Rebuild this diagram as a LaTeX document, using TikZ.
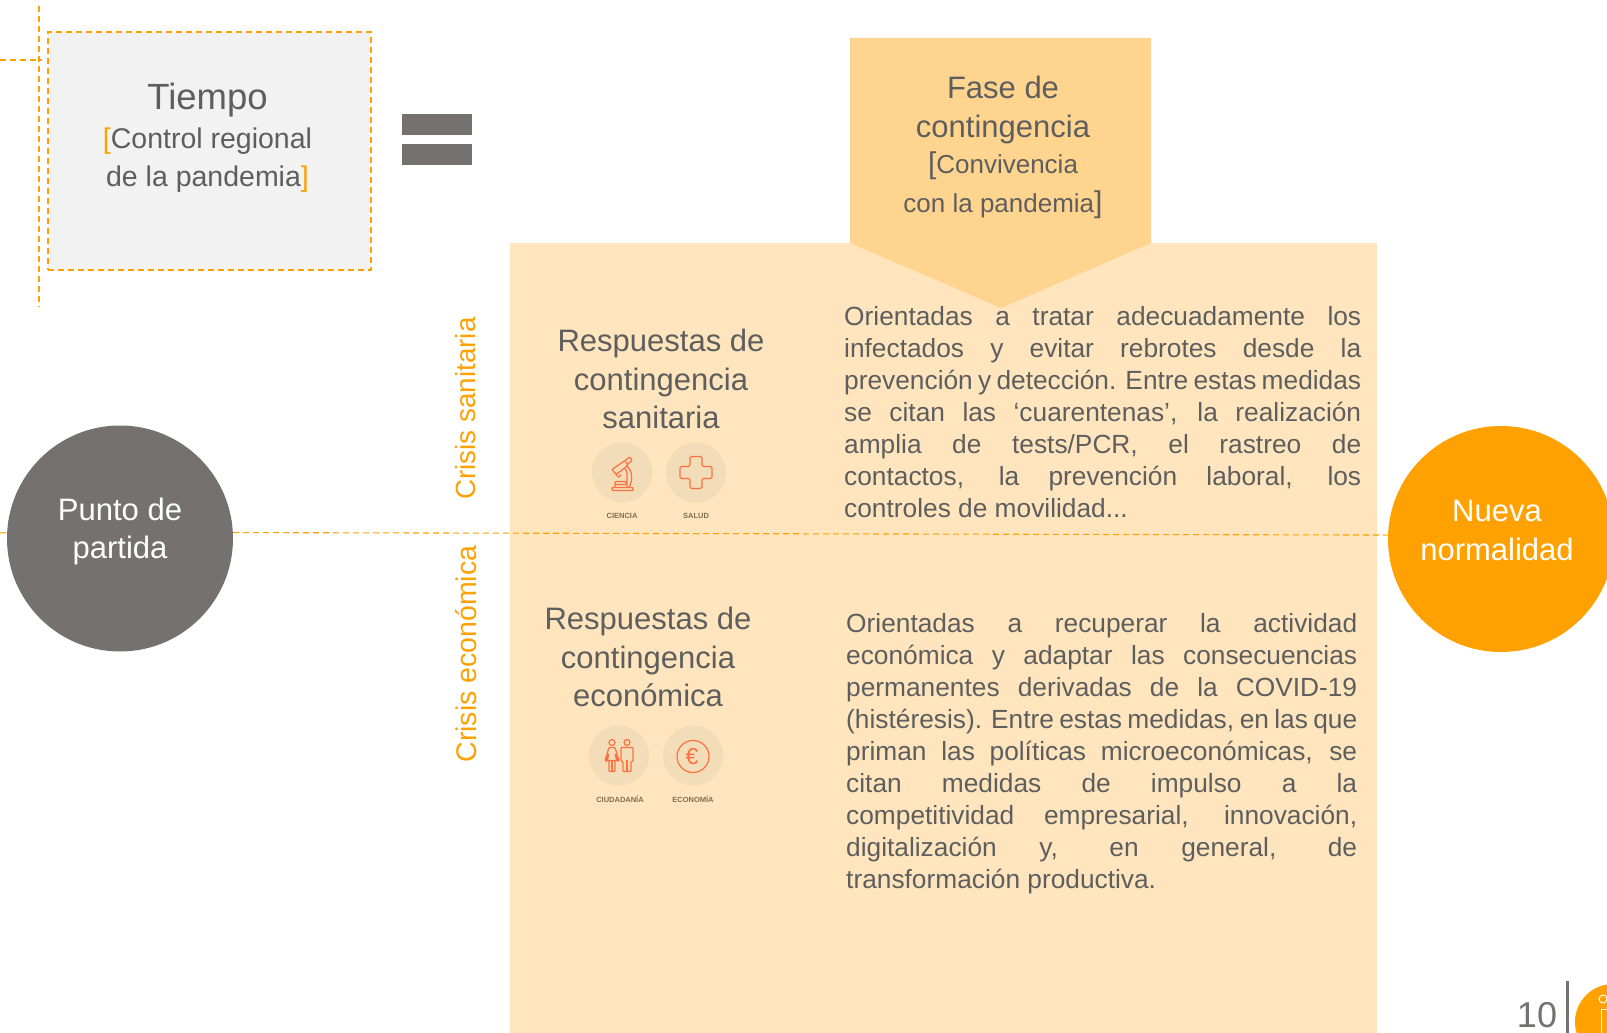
\documentclass[tikz,border=0pt]{standalone}
\usepackage{fontspec}
\setmainfont{Liberation Sans}
\usepackage{tikz}
\usetikzlibrary{positioning}
\definecolor{naranja}{HTML}{FFA100}
\definecolor{gris}{HTML}{757170}
\definecolor{texto}{HTML}{5E5E5E}
\definecolor{panelfill}{HTML}{FFE5BD}
\definecolor{fasefill}{HTML}{FFD48F}
\definecolor{iconfill}{HTML}{F2DDB8}
\definecolor{iconline}{HTML}{FF7040}
\definecolor{rotulofill}{HTML}{806E50}
\tikzstyle{guia} = [draw=naranja, line width=1.1pt, dash pattern=on 6pt off 4pt]
\tikzstyle{trazo} = [draw=iconline, line width=1.2pt, line join=round, rounded corners=0.8pt]

\begin{document}
\begin{tikzpicture}[
    x=1pt, y=-1pt,
    hito/.style={
        circle,
        minimum size=226pt,
        inner sep=0pt
    },
    hitotxt/.style={
        text=white,
        align=center,
        inner sep=0pt,
        font=\fontsize{31}{38.5}\selectfont
    },
    titulo/.style={
        text=texto,
        align=center,
        inner sep=0pt,
        font=\fontsize{31}{38.5}\selectfont
    },
    cuerpo/.style={
        text=texto,
        align=justify,
        inner sep=0pt,
        anchor=north west,
        font=\fontsize{26.3}{32}\selectfont
    },
    crisis/.style={
        text=naranja,
        rotate=90,
        inner sep=0pt,
        font=\fontsize{28.5}{32}\selectfont
    },
    icono/.style={
        circle,
        fill=iconfill,
        minimum size=60pt,
        inner sep=0pt
    },
    rotulo/.style={
        text=rotulofill,
        inner sep=0pt,
        font=\fontsize{7.5}{9}\selectfont\bfseries
    }
    ]
    \useasboundingbox (0,0) rectangle (1607,1033);
    \clip (0,0) rectangle (1607,1033);

    % Panel and phase arrow
    \fill[panelfill] (510,243) rectangle (1377,1033);
    \fill[fasefill] (850,38) -- (1151,38) -- (1151,243) -- (1001,308) -- (850,243) -- cycle;

    % Time guides
    \coordinate (guiaTop) at (39,6);
    \coordinate (guiaBottom) at (39,307);
    \coordinate (guiaLeft) at (0,60);
    \coordinate (guiaCross) at (42,60);
    \draw[guia] (guiaTop) -- (guiaBottom);
    \draw[guia] (guiaLeft) -- (guiaCross);

    % Tiempo box
    \node[guia, fill=gray!10, minimum width=323pt, minimum height=238pt, inner sep=0pt] (tiempoBox) at (209.5,151) {};
    \node[titulo, font=\fontsize{28.5}{38}\selectfont] (tiempo) at (207.5,137.5) {%
        {\fontsize{36.5}{38}\selectfont Tiempo}\\[1pt]
        \textcolor{naranja}{[}Control regional\\
        de la pandemia\textcolor{naranja}{]}};

    % Equals sign
    \node[fill=gris, minimum width=70pt, minimum height=21pt, inner sep=0pt] (igualTop) at (437,124.5) {};
    \node[fill=gris, minimum width=70pt, minimum height=21pt, inner sep=0pt, below=9pt of igualTop] (igualBottom) {};

    % Phase title
    \node[titulo] (fase) at (1003,110) {Fase de\\contingencia};
    \node[titulo, font=\fontsize{26}{39}\selectfont, below=8pt of fase] (convivencia) {%
        {\fontsize{30}{39}\selectfont [}Convivencia\\
        con la pandemia{\fontsize{30}{39}\selectfont ]}};

    % Milestones
    \node[hito, fill=gris] (punto) at (120,538.5) {};
    \node[hito, fill=naranja] (nueva) at (1501,539) {};
    \node[hitotxt] (puntoTxt) at (120,531.5) {Punto de\\partida};
    \node[hitotxt] (nuevaTxt) at (1497,530.5) {Nueva\\normalidad};
    \coordinate (lineaStart) at (0,533);
    \draw[guia] (lineaStart) -- (punto.177);
    \draw[guia] (punto.3) -- (nueva.178);

    % Crisis labels
    \node[crisis, font=\fontsize{27.8}{32}\selectfont] (sanitaria) at (466,408.5) {Crisis sanitaria};
    \node[crisis] (economica) at (466,654) {Crisis económica};

    % Sanitary response
    \node[titulo] (respSan) at (661,379) {Respuestas de\\contingencia\\sanitaria};
    \node[cuerpo, text width=517pt] (textoSan) at (844,306) {%
        Orientadas a tratar adecuadamente los\linebreak
        infectados y evitar rebrotes desde la\linebreak
        prevención y detección. Entre estas medidas\linebreak
        se citan las ‘cuarentenas’, la realización\linebreak
        amplia de tests/PCR, el rastreo de\linebreak
        contactos, la prevención laboral, los\linebreak
        controles de movilidad...};

    % Economic response
    \node[titulo] (respEco) at (648,657) {Respuestas de\\contingencia\\económica};
    \node[cuerpo, text width=511pt] (textoEco) at (846,613) {%
        Orientadas a recuperar la actividad\linebreak
        económica y adaptar las consecuencias\linebreak
        permanentes derivadas de la COVID-19\linebreak
        (histéresis). Entre estas medidas, en las que\linebreak
        priman las políticas microeconómicas, se\linebreak
        citan medidas de impulso a la\linebreak
        competitividad empresarial, innovación,\linebreak
        digitalización y, en general, de\linebreak
        transformación productiva.};

    % Icon circles
    \node[icono] (ciencia) at (622,472.5) {};
    \node[icono] (salud) at (696,472.5) {};
    \node[icono] (ciudadania) at (619,755.5) {};
    \node[icono] (economia) at (693,755.5) {};
    \node[rotulo] at (622,515.5) (cienciaTxt) {CIENCIA};
    \node[rotulo] at (696,515.5) (saludTxt) {SALUD};
    \node[rotulo] at (620,799) (ciudadaniaTxt) {CIUDADANÍA};
    \node[rotulo] at (693,799) (economiaTxt) {ECONOMÍA};

    % Microscope
    \begin{scope}[shift={(ciencia)}]
        \draw[trazo] (-10,18) -- (11,18) -- (11,15) -- (-10,15) -- cycle;
        \draw[trazo] (-7,15) -- (-7,9) -- (4,9) -- (4,12) -- (-7,12);
        \draw[trazo] (-10,-3) -- (3,-12) -- (6,-7) -- (-6,2) -- cycle;
        \draw[trazo] (3,-12) -- (8,-15.5) -- (10,-12) -- (5.5,-8);
        \draw[trazo] (4,-7) .. controls (11,-2) and (11,8) .. (7,15);
        \draw[trazo] (3,-4) -- (5,0) -- (5,15);
        \draw[trazo] (-6,2) -- (-3,5) -- (-1,2);
    \end{scope}

    % Cross
    \begin{scope}[shift={(salud)}]
        \draw[trazo, rounded corners=1.5pt] (-6,-16) -- (6,-16) -- (6,-6) -- (16,-6) -- (16,6) -- (6,6)
            -- (6,16) -- (-6,16) -- (-6,6) -- (-16,6) -- (-16,-6) -- (-6,-6) -- cycle;
    \end{scope}

    % People
    \begin{scope}[shift={(ciudadania)}]
        \draw[trazo] (-7,-13) circle (3pt);
        \draw[trazo] (-10,-8) -- (-4,-8) -- (0,5) -- (-2,6) -- (-4,-2) -- (-1,5) -- (-13,5) -- (-10,-2) -- (-12,6) -- (-14,5) -- cycle;
        \draw[trazo] (-10,5) -- (-10,16) -- (-4,16) -- (-4,5);
        \draw[trazo] (-7,5) -- (-7,16);
        \draw[trazo] (8,-13) circle (3pt);
        \draw[trazo] (2,-8) -- (14,-8) -- (14,6) -- (12,6) -- (12,16) -- (4,16) -- (4,6) -- (2,6) -- cycle;
        \draw[trazo] (8,4) -- (8,16);
    \end{scope}

    % Euro
    \begin{scope}[shift={(economia)}]
        \draw[trazo] (0,1) circle (16pt);
        \node[text=iconline, inner sep=0pt, font=\fontsize{23}{23}\selectfont] (euro) at (-1,1) {€};
    \end{scope}

    % Page mark
    \node[text=gris, inner sep=0pt, font=\fontsize{36}{36}\selectfont] (pagina) at (1537,1015) {10};
    \fill[gris] (1565.5,981) rectangle (1568.5,1033);
    \node[circle, fill=naranja, minimum size=76pt, inner sep=0pt] (logo) at (1613,1022) {};
    \draw[white, line width=1pt] (1603,999) circle (4pt);
    \draw[white, line width=1pt] (1601,1033) -- (1601,1009) -- (1607,1009) -- (1607,1033);
\end{tikzpicture}
\end{document}
